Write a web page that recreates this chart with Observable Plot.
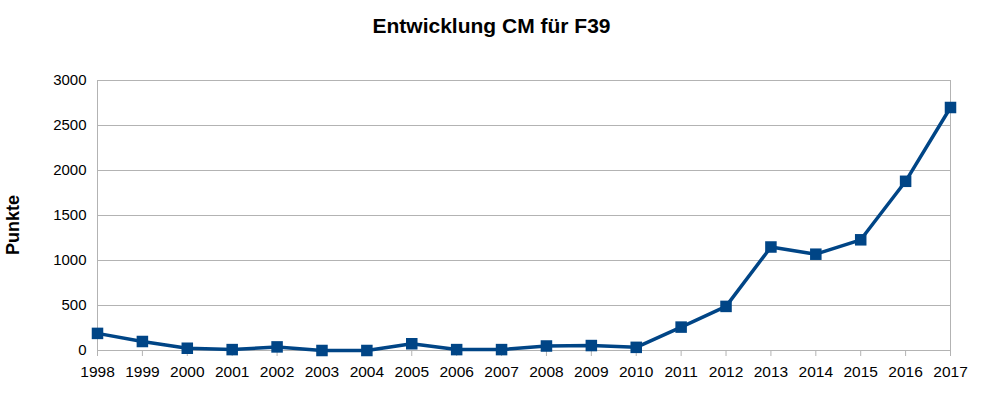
<!DOCTYPE html>
<html>
<head>
<meta charset="utf-8">
<script src="https://cdn.jsdelivr.net/npm/d3@7"></script>
<script src="https://cdn.jsdelivr.net/npm/@observablehq/plot@0.6"></script>
<style>
  html, body { margin: 0; padding: 0; background: #fff; overflow: hidden; }
  #wrap { position: relative; width: 983px; height: 399px; font-family: "Liberation Sans", Arial, sans-serif; }
  #title { position: absolute; left: 0; width: 983px; top: 14px; text-align: center; font-weight: bold; font-size: 21px; color: #000; }
  #ylab { position: absolute; left: 13px; top: 225px; transform: translate(-50%, -50%) rotate(-90deg); transform-origin: center; font-weight: bold; font-size: 18px; white-space: nowrap; }
  #chart { position: absolute; left: 0; top: 0; }
</style>
</head>
<body>
<div id="wrap">
  <div id="chart"></div>
  <div id="title">Entwicklung CM für F39</div>
  <div id="ylab">Punkte</div>
</div>
<script>
const years = [1998,1999,2000,2001,2002,2003,2004,2005,2006,2007,2008,2009,2010,2011,2012,2013,2014,2015,2016,2017];
const punkte = [190, 100, 25, 10, 40, 0, 0, 75, 10, 10, 50, 55, 35, 260, 490, 1150, 1070, 1230, 1880, 2700];
const yTicks = [0, 500, 1000, 1500, 2000, 2500, 3000];

const data = years.map((y, i) => ({year: y, value: punkte[i]}));
const color = "#004586";

const chart = Plot.plot({
  width: 983,
  height: 399,
  marginTop: 80,
  marginBottom: 49,
  marginLeft: 97,
  marginRight: 33,
  style: {fontFamily: "Liberation Sans, Arial, sans-serif", fontSize: "15px", color: "#000", background: "transparent"},
  x: {type: "linear", domain: [years[0], years[years.length - 1]], label: null},
  y: {domain: [0, 3000], label: null},
  marks: [
    Plot.gridY(yTicks, {stroke: "#b3b3b3", strokeOpacity: 1, strokeWidth: 1}),
    Plot.ruleX([years[0], years[years.length - 1]], {stroke: "#b3b3b3", strokeWidth: 1}),
    Plot.ruleY([0], {stroke: "#b3b3b3", strokeWidth: 1}),
    Plot.axisY(yTicks, {tickSize: 0, tickPadding: 11, tickFormat: d3.format("d"), fontSize: 15, fill: "#000"}),
    Plot.axisX(years, {tickSize: 6, tickPadding: 9, tickFormat: d3.format("d"), stroke: "#b3b3b3", fontSize: 15.5, fill: "#000"}),
    Plot.line(data, {x: "year", y: "value", stroke: color, strokeWidth: 3.5}),
    Plot.dot(data, {x: "year", y: "value", symbol: "square", r: 6.5, fill: color, stroke: "none"})
  ]
});
document.getElementById("chart").appendChild(chart);
</script>
</body>
</html>
